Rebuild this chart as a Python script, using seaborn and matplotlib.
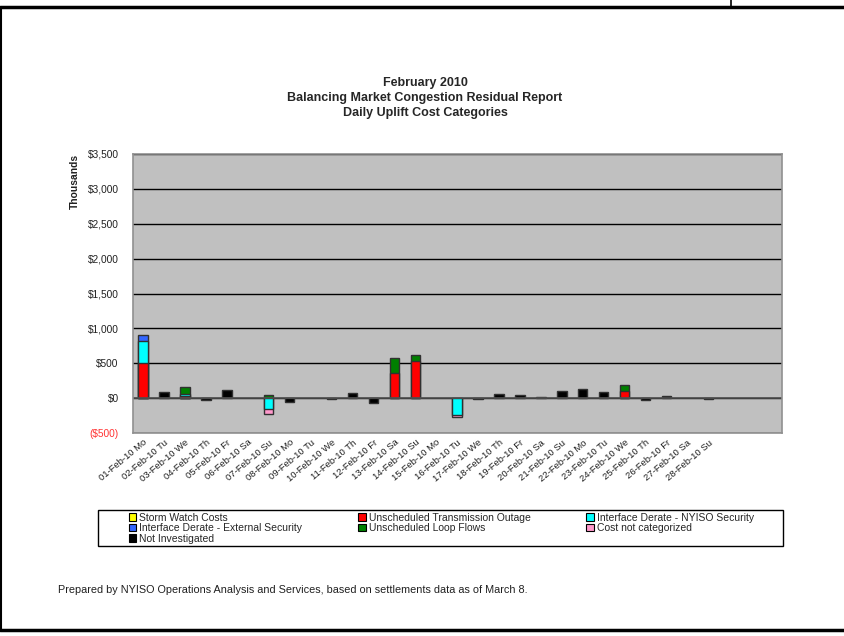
import matplotlib
matplotlib.use('Agg')
import matplotlib.pyplot as plt
from matplotlib.patches import Patch, Rectangle
from matplotlib.lines import Line2D
from matplotlib.ticker import FuncFormatter, MultipleLocator
import numpy as np
import pandas as pd
import seaborn as sns

days = ['01-Feb-10 Mo', '02-Feb-10 Tu', '03-Feb-10 We', '04-Feb-10 Th', '05-Feb-10 Fr',
        '06-Feb-10 Sa', '07-Feb-10 Su', '08-Feb-10 Mo', '09-Feb-10 Tu', '10-Feb-10 We',
        '11-Feb-10 Th', '12-Feb-10 Fr', '13-Feb-10 Sa', '14-Feb-10 Su', '15-Feb-10 Mo',
        '16-Feb-10 Tu', '17-Feb-10 We', '18-Feb-10 Th', '19-Feb-10 Fr', '20-Feb-10 Sa',
        '21-Feb-10 Su', '22-Feb-10 Mo', '23-Feb-10 Tu', '24-Feb-10 We', '25-Feb-10 Th',
        '26-Feb-10 Fr', '27-Feb-10 Sa', '28-Feb-10 Su']

# $ thousands
storm_watch = [0] * 28
trans_outage = [500, 0, 35, 0, 0, 0, 0, 0, 0, 0, 0, 0, 360, 535, 0,
                0, 0, 0, 0, 0, 0, 0, 0, 105, 0, 0, 0, 0]
nyiso_security = [320, 0, 20, 0, 0, 0, -160, 0, 0, 0, 0, 0, 0, 0, 0,
                  -240, 0, 0, 0, 0, 0, 0, 0, 0, 0, 0, 0, 0]
external_security = [85, 0, 0, 0, 0, 0, 0, 0, 0, 0, 0, 0, 0, 0, 0,
                     0, 0, 0, 0, 0, 0, 0, 0, 0, 0, 0, 0, 0]
loop_flows = [0, 0, 100, 0, 0, 0, 50, 0, 0, 0, 0, 0, 220, 80, 0,
              0, 0, 0, 0, 0, 0, 0, 0, 80, 0, 0, 0, 0]
not_categorized = [0, 0, 0, 0, 0, 0, -70, 0, 0, 0, 0, 0, 0, 0, 0,
                   -25, 0, 0, 0, 0, 0, 0, 0, 0, 0, 0, 0, 0]
not_investigated = [0, 95, 0, -25, 120, 0, 0, -50, 0, -15, 80, -75, 0, 0, 0,
                    0, -10, 55, 40, 15, 110, 125, 95, 0, -20, 25, 0, -15]

series = {
    'Storm Watch Costs': (storm_watch, '#FFFF00'),
    'Unscheduled Transmission Outage': (trans_outage, '#FF0000'),
    'Interface Derate - NYISO Security': (nyiso_security, '#00FFFF'),
    'Interface Derate - External Security': (external_security, '#3366FF'),
    'Unscheduled Loop Flows': (loop_flows, '#008000'),
    'Cost not categorized': (not_categorized, '#FF99CC'),
    'Not Investigated': (not_investigated, '#000000'),
}

sns.set_style('white')
plt.rcParams['font.family'] = ['Liberation Sans', 'DejaVu Sans']

fig = plt.figure(figsize=(8.45, 6.36), dpi=100)
ax = fig.add_axes([0.157, 0.319, 0.768, 0.439])
ax.set_facecolor('#C0C0C0')

# stack positives and negatives separately, then draw outer layers first
names = list(series)
vals = np.array([series[n][0] for n in names], dtype=float)
pos_cum = np.cumsum(np.clip(vals, 0, None), axis=0)
neg_cum = np.cumsum(np.clip(vals, None, 0), axis=0)
for i in reversed(range(len(names))):
    color = series[names[i]][1]
    for cum, raw in ((pos_cum, np.clip(vals[i], 0, None)), (neg_cum, np.clip(vals[i], None, 0))):
        h = np.where(raw != 0, cum[i], np.nan)
        df = pd.DataFrame({'day': days, 'value': h})
        sns.barplot(data=df, x='day', y='value', order=days, color=color,
                    width=0.45, edgecolor='#303030', linewidth=1.0,
                    saturation=1, ax=ax, errorbar=None)

ax.set_xlim(-0.5, 30.5)
ax.set_ylim(-500, 3500)
ax.yaxis.set_major_locator(MultipleLocator(500))
ax.yaxis.grid(True, color='black', linewidth=1.0)
ax.set_axisbelow(True)
ax.axhline(0, color='#505050', linewidth=1.2, zorder=1)


def money(v, pos):
    if v < 0:
        return '(${:,.0f})'.format(-v)
    return '${:,.0f}'.format(v)


ax.yaxis.set_major_formatter(FuncFormatter(money))
ax.tick_params(axis='both', length=0, colors='#202020')
ax.tick_params(axis='y', pad=10, labelsize=7.3)
for lab in ax.get_yticklabels():
    if lab.get_text().startswith('('):
        lab.set_color('#FF3333')
ax.set_xticks(range(len(days)))
ax.set_xticklabels(days, rotation=40, ha='right', rotation_mode='anchor', fontsize=6.8)
ax.set_xlabel('')
ax.set_ylabel('Thousands', fontsize=7.4, fontweight='bold', color='#202020')
ax.yaxis.set_label_coords(-0.082, 0.9)
for s in ax.spines.values():
    s.set_color('#909090')
    s.set_linewidth(1.2)

fig.text(0.503, 0.846, 'February 2010\nBalancing Market Congestion Residual Report\nDaily Uplift Cost Categories',
         ha='center', va='center', fontsize=9, fontweight='bold', linespacing=1.35)

# legend in row-major order across 3 columns, framed by a separate box
handles = [Patch(facecolor=series[n][1], edgecolor='black', linewidth=0.8, label=n) for n in names]
order = [0, 3, 6, 1, 4, 2, 5]
leg = fig.legend([handles[i] for i in order], [names[i] for i in order], ncol=3,
                 loc='lower left', bbox_to_anchor=(0.1515, 0.1435, 0.742, 0.053),
                 mode='expand', fontsize=7.5, frameon=False,
                 handlelength=0.7, handleheight=0.7, handletextpad=0.3,
                 labelspacing=0.05, borderpad=0.1, borderaxespad=0)
fig.add_artist(Rectangle((0.116, 0.1415), 0.811, 0.0565, transform=fig.transFigure,
                         facecolor='none', edgecolor='black', linewidth=1.0))

fig.text(0.069, 0.072, 'Prepared by NYISO Operations Analysis and Services, based on settlements data as of March 8.',
         fontsize=7.8, ha='left', va='center', color='#202020')

# page frame
fig.add_artist(Line2D([0, 1], [0.989, 0.989], color='black', linewidth=2.5, transform=fig.transFigure))
fig.add_artist(Line2D([0.001, 0.001], [0.01, 0.989], color='black', linewidth=1.5, transform=fig.transFigure))
fig.add_artist(Line2D([0, 1], [0.009, 0.009], color='black', linewidth=2.5, transform=fig.transFigure))
fig.add_artist(Line2D([0.865, 0.865], [0.989, 1.0], color='black', linewidth=1.2, transform=fig.transFigure))

fig.savefig('out.png', dpi=100)
